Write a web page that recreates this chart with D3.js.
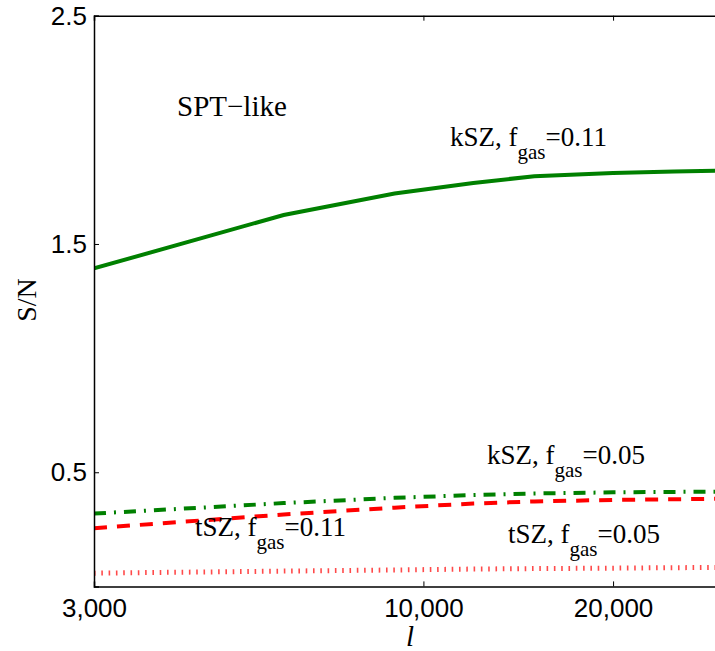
<!DOCTYPE html>
<html>
<head>
<meta charset="utf-8">
<script src="https://cdn.jsdelivr.net/npm/d3@7"></script>
<style>
  body { margin: 0; background: #fff; }
  svg { display: block; }
</style>
</head>
<body>
<div id="chart-area"></div>
<script>
// multipole values where each curve was sampled
const ells = [3000, 6000, 9000, 12000, 15000, 20000, 25000, 30000];

// S/N curves
const ksz_fgas011 = [1.393, 1.627, 1.721, 1.767, 1.797, 1.811, 1.817, 1.822];
const ksz_fgas005 = [0.319, 0.365, 0.388, 0.400, 0.407, 0.412, 0.414, 0.415];
const tsz_fgas011 = [0.255, 0.315, 0.345, 0.363, 0.372, 0.379, 0.382, 0.384];
const tsz_fgas005 = [0.058, 0.067, 0.072, 0.076, 0.078, 0.080, 0.082, 0.083];

const xTicks = [3000, 10000, 20000];
const yTicks = [0.5, 1.5, 2.5];

const width = 715, height = 651;
const plotLeft = 94, plotRight = 724, plotTop = 15.7, plotBottom = 586.4;

const svg = d3.select("#chart-area")
    .append("svg")
        .attr("width", width)
        .attr("height", height);

// Scales
var x = d3.scaleLog()
    .domain([3000, 30000])
    .range([plotLeft, plotRight]);

var y = d3.scaleLinear()
    .domain([0, 2.5])
    .range([plotBottom, plotTop]);

svg.append("clipPath").attr("id", "plot-clip")
    .append("rect")
        .attr("x", plotLeft).attr("y", plotTop)
        .attr("width", plotRight - plotLeft).attr("height", plotBottom - plotTop);

// curves
let series = [
    { vals: ksz_fgas011, color: "#008000", dash: null, w: 4 },
    { vals: ksz_fgas005, color: "#008000", dash: "12,8,2,8", w: 4 },
    { vals: tsz_fgas011, color: "#ff0000", dash: "13,10", w: 4 },
    { vals: tsz_fgas005, color: "#ff4a4a", dash: "1.6,5.7", w: 5 }
];

let line = d3.line()
    .x(d => x(d[0]))
    .y(d => y(d[1]));

let plot = svg.append("g").attr("clip-path", "url(#plot-clip)");
for (let s of series) {
    plot.append("path")
        .datum(ells.map((l, i) => [l, s.vals[i]]))
        .attr("d", line)
        .attr("fill", "none")
        .attr("stroke", s.color)
        .attr("stroke-width", s.w)
        .attr("stroke-dasharray", s.dash);
}

// Axes (ticks point inward, box on all sides)
const tickFont = "'Liberation Sans', Arial, sans-serif";

var xAxisCall = d3.axisBottom(x)
    .tickValues(xTicks)
    .tickFormat(d3.format(","))
    .tickSize(-5)
    .tickPadding(12);
let gx = svg.append("g")
    .attr("transform", "translate(0," + plotBottom + ")")
    .call(xAxisCall);

var yAxisCall = d3.axisLeft(y)
    .tickValues(yTicks)
    .tickFormat(d3.format(".1f"))
    .tickSize(-5)
    .tickPadding(7);
let gy = svg.append("g")
    .attr("transform", "translate(" + plotLeft + ",0)")
    .call(yAxisCall);

let gxTop = svg.append("g")
    .attr("transform", "translate(0," + plotTop + ")")
    .call(d3.axisTop(x).tickValues(xTicks).tickSize(-5).tickFormat(""));
let gyRight = svg.append("g")
    .attr("transform", "translate(" + plotRight + ",0)")
    .call(d3.axisRight(y).tickValues(yTicks).tickSize(-5).tickFormat(""));

for (let g of [gx, gy, gxTop, gyRight]) {
    g.select(".domain").attr("stroke", "#000").attr("stroke-width", 1.5);
    g.selectAll(".tick line").attr("stroke", "#000").attr("stroke-width", 1);
    g.selectAll("text")
        .attr("font-family", tickFont)
        .attr("font-size", "26px")
        .attr("fill", "#000");
}

// axis labels
const serif = "'Liberation Serif', 'Times New Roman', serif";

svg.append("text")
    .attr("transform", "translate(36,300) rotate(-90)")
    .attr("text-anchor", "middle")
    .attr("font-family", serif)
    .attr("font-size", "28px")
    .text("S/N");

svg.append("text")
    .attr("x", 410)
    .attr("y", 646)
    .attr("text-anchor", "middle")
    .attr("font-family", serif)
    .attr("font-style", "italic")
    .attr("font-size", "29px")
    .text("l");

// annotations
svg.append("text")
    .attr("x", 177)
    .attr("y", 116)
    .attr("font-family", serif)
    .attr("font-size", "29px")
    .text("SPT\u2212like");

let notes = [
    { pre: "kSZ, f", val: "=0.11", x: 450, y: 146 },
    { pre: "kSZ, f", val: "=0.05", x: 487, y: 464 },
    { pre: "tSZ, f", val: "=0.05", x: 508, y: 543 },
    { pre: "tSZ, f", val: "=0.11", x: 195, y: 536 }
];

for (let n of notes) {
    let t = svg.append("text")
        .attr("x", n.x)
        .attr("y", n.y)
        .attr("font-family", serif)
        .attr("font-size", "27px");
    t.append("tspan").text(n.pre);
    t.append("tspan")
        .attr("font-size", "21px")
        .attr("dy", 13)
        .text("gas");
    t.append("tspan")
        .attr("dy", -13)
        .text(n.val);
}
</script>
</body>
</html>
